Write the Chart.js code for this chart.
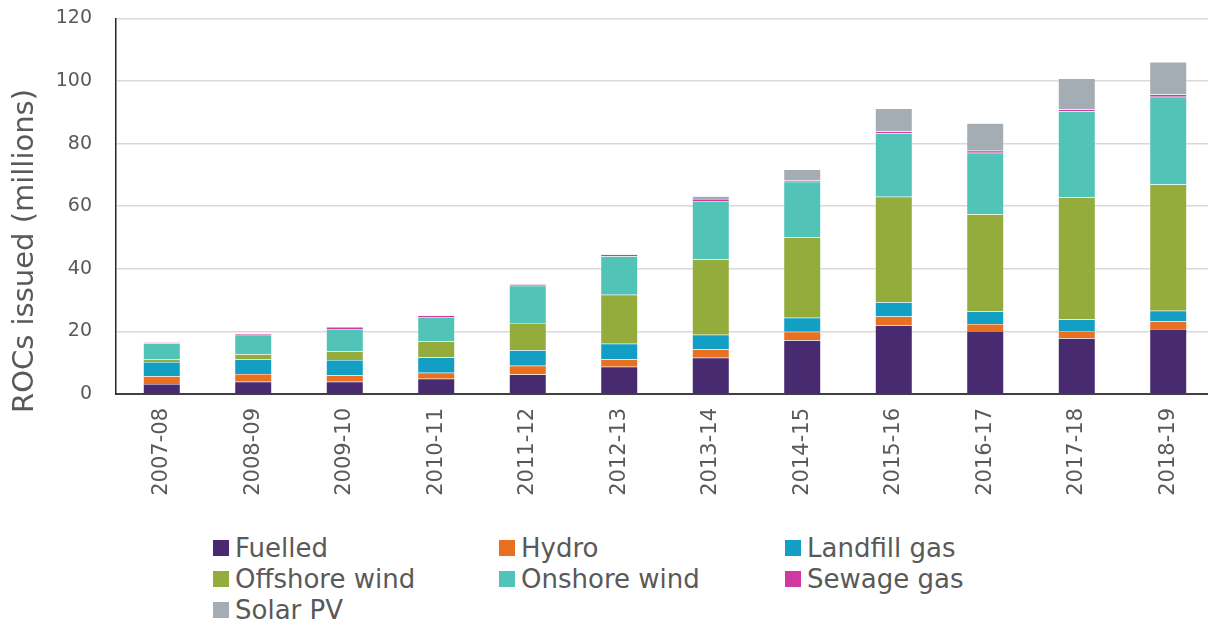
<!DOCTYPE html>
<html>
<head>
<meta charset="utf-8">
<script src="https://cdn.jsdelivr.net/npm/chart.js@4.4.1/dist/chart.umd.min.js"></script>
<style>
  html, body { margin: 0; padding: 0; background: #fff; }
  #wrap { position: relative; width: 1208px; height: 622px; overflow: hidden; }
  #box { position: absolute; left: 0; top: -17px; width: 1214px; height: 537px; }
  #legend {
    position: absolute; left: 213px; top: 532px;
    display: grid; grid-template-columns: 286px 286px 286px; grid-auto-rows: 31px;
    font-family: "DejaVu Sans", Verdana, sans-serif; font-size: 26px; color: #595959;
  }
  #legend div { display: flex; align-items: center; white-space: nowrap; }
  #legend span.sw { display: inline-block; width: 16px; height: 16px; margin-right: 6px; }
</style>
</head>
<body>
<div id="wrap">
  <div id="box"><canvas id="rocChart"></canvas></div>
  <div id="legend"></div>
</div>
<script>
// ------------------------------------------------------------------
// data (millions of ROCs issued)
var years = ['2007-08', '2008-09', '2009-10', '2010-11', '2011-12', '2012-13',
             '2013-14', '2014-15', '2015-16', '2016-17', '2017-18', '2018-19'];
var fuelled  = [3.2, 3.9, 3.9, 4.9, 6.2, 8.7, 11.6, 17.2, 22.0, 20.1, 17.8, 20.8];
var hydro    = [2.45, 2.5, 2.1, 1.9, 2.8, 2.4, 2.7, 2.7, 2.8, 2.3, 2.3, 2.4];
var landfill = [4.55, 4.7, 4.9, 4.9, 5.0, 4.95, 4.6, 4.45, 4.5, 4.0, 3.7, 3.4];
var offshore = [0.9, 1.6, 2.7, 5.1, 8.7, 15.65, 24.1, 25.65, 33.7, 31.0, 39.0, 40.3];
var onshore  = [5.0, 6.2, 7.2, 7.8, 11.9, 12.3, 18.7, 17.8, 20.3, 19.7, 27.5, 28.1];
var sewage   = [0.45, 0.45, 0.6, 0.5, 0.5, 0.55, 0.6, 0.5, 0.6, 0.6, 0.6, 0.65];
var solar    = [0.0, 0.0, 0.0, 0.05, 0.05, 0.15, 0.9, 3.4, 7.3, 8.8, 9.9, 10.4];

var seriesNames  = ['Fuelled', 'Hydro', 'Landfill gas', 'Offshore wind', 'Onshore wind', 'Sewage gas', 'Solar PV'];
var seriesValues = [fuelled, hydro, landfill, offshore, onshore, sewage, solar];
var seriesColors = ['#472a6f', '#e97020', '#139fc3', '#93ac3c', '#52c3b7', '#d03aa0', '#a3adb3'];
var yTitle = 'ROCs issued (millions)';
// ------------------------------------------------------------------

(function () {
    var FONT = '"DejaVu Sans", Verdana, sans-serif';
    var TXT = '#595959';

    var datasets = seriesNames.map(function (name, i) {
        return {
            label: name,
            data: seriesValues[i],
            backgroundColor: seriesColors[i],
            borderColor: 'rgba(255,255,255,0.45)',
            borderWidth: 0.5,
            barPercentage: 0.405,
            categoryPercentage: 1
        };
    });

    // axis title sits a bit lower than the plot centre in the original
    var yTitlePlugin = {
        id: 'yTitle',
        afterDraw: function (c) {
            var g = c.ctx;
            g.save();
            g.translate(25, 251 + 17); // canvas box is shifted up 17px
            g.rotate(-Math.PI / 2);
            g.font = '29px ' + FONT;
            g.fillStyle = TXT;
            g.textAlign = 'center';
            g.textBaseline = 'middle';
            g.fillText(yTitle, 0, 0);
            g.restore();
        }
    };

    var ctx = document.getElementById('rocChart').getContext('2d');
    var chart = new Chart(ctx, {
        type: 'bar',
        data: { labels: years, datasets: datasets },
        options: {
            responsive: true,
            maintainAspectRatio: false,
            animation: false,
            layout: { padding: { top: 1, right: 0, bottom: 0, left: 0 } },
            plugins: {
                legend: { display: false },
                tooltip: { enabled: false }
            },
            scales: {
                x: {
                    stacked: true,
                    grid: { display: false, drawTicks: false },
                    border: { color: '#404040', width: 2 },
                    ticks: {
                        color: TXT, font: { family: FONT, size: 21 },
                        minRotation: 90, maxRotation: 90, padding: 14, autoSkip: false
                    },
                    afterFit: function (s) { s.height = 126; }
                },
                y: {
                    stacked: true,
                    min: 0, max: 120,
                    grid: { color: '#d9d9d9', lineWidth: 1.6, drawTicks: false },
                    border: { color: '#262626', width: 1.5 },
                    ticks: {
                        stepSize: 20, color: TXT, padding: 24,
                        font: { family: FONT, size: 19 }
                    },
                    afterFit: function (s) { s.width = 116; }
                }
            }
        },
        plugins: [yTitlePlugin]
    });

    // legend laid out in three columns like the original
    var leg = document.getElementById('legend');
    chart.data.datasets.forEach(function (ds) {
        var item = document.createElement('div');
        var sw = document.createElement('span');
        sw.className = 'sw';
        sw.style.background = ds.backgroundColor;
        item.appendChild(sw);
        item.appendChild(document.createTextNode(ds.label));
        leg.appendChild(item);
    });
})();
</script>
</body>
</html>
